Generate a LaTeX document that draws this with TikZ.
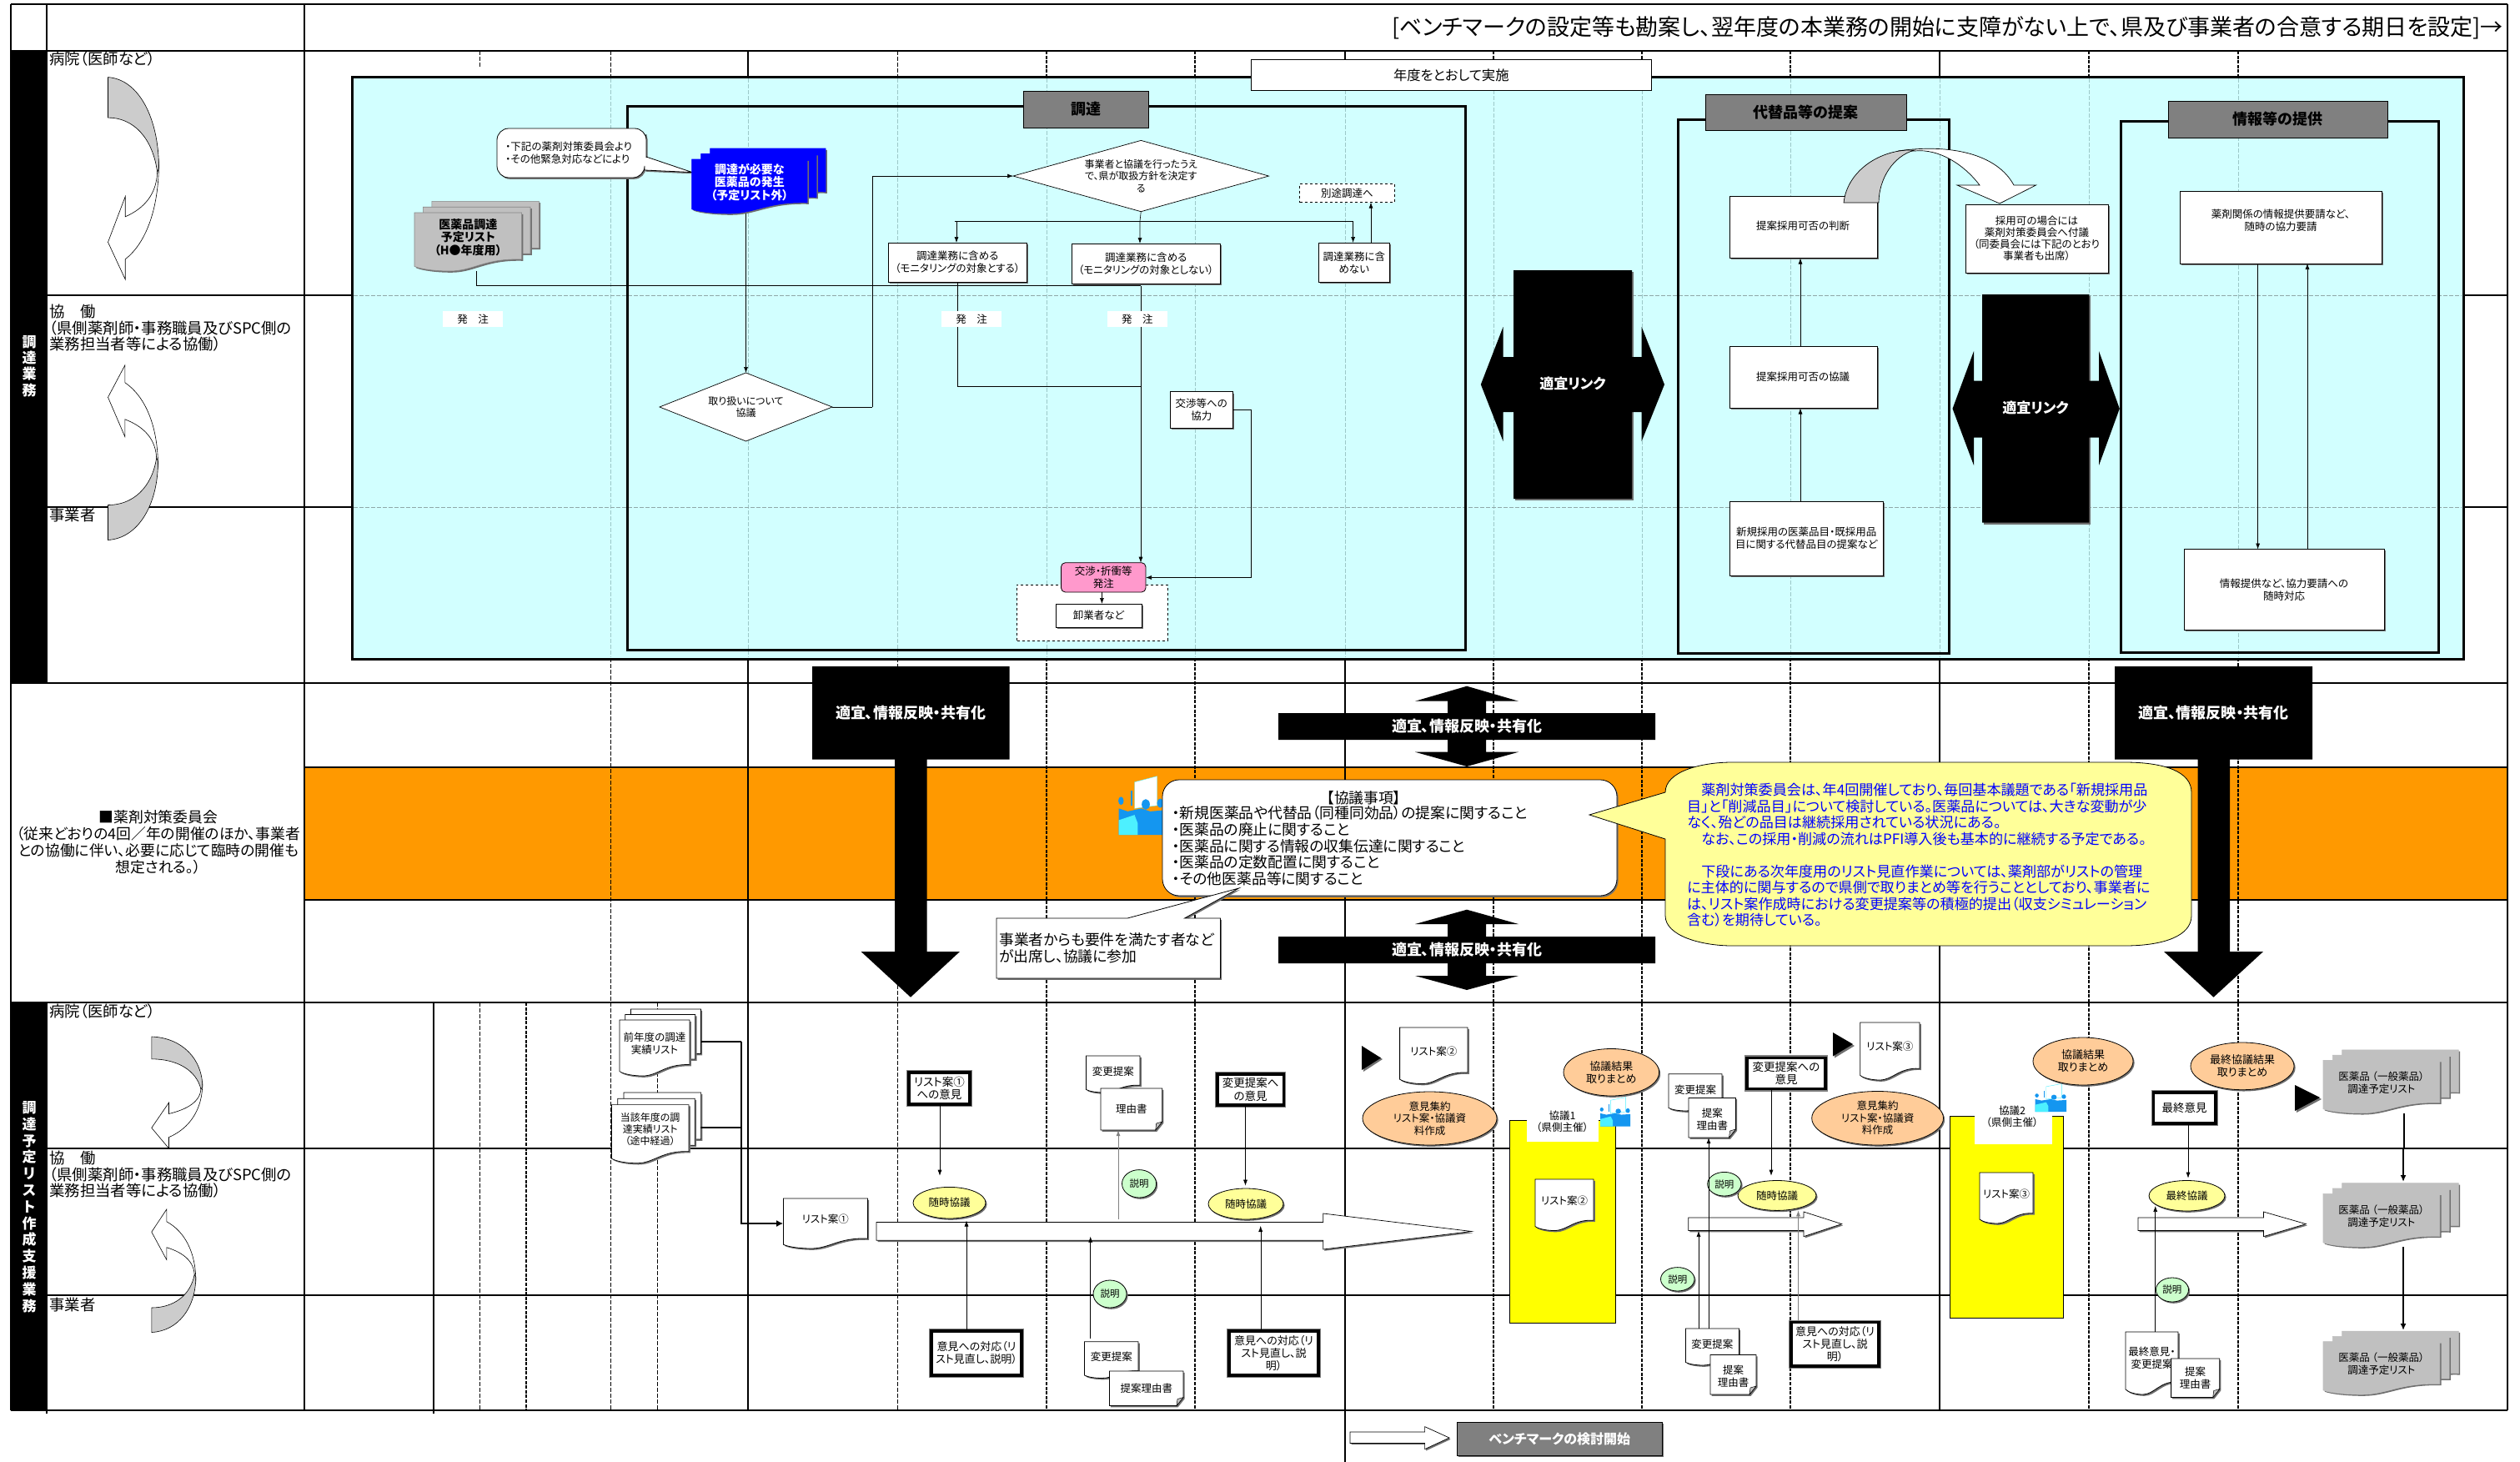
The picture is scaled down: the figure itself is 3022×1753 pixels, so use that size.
\documentclass[tikz,border=0pt]{standalone}
\usepackage{fontspec}
\setmainfont{Noto Sans CJK JP}[RawFeature=+palt]
\usetikzlibrary{arrows.meta,shapes.geometric,shadows,calc}
\definecolor{orangeband}{HTML}{FF9900}
\definecolor{cyanbox}{HTML}{D2FFFF}
\definecolor{faintv}{HTML}{9CC8C8}
\definecolor{faintg}{HTML}{8FA8A8}
\definecolor{greyhead}{HTML}{808080}
\definecolor{docgrey}{HTML}{C0C0C0}
\definecolor{curvegrey}{HTML}{CCCCCC}
\definecolor{shgrey}{HTML}{707070}
\definecolor{lyellow}{HTML}{FFFF99}
\definecolor{lorange}{HTML}{FFCC99}
\definecolor{lgreen}{HTML}{CCFFCC}
\definecolor{lpink}{HTML}{FF99CC}
\definecolor{iconblue}{HTML}{1496F0}
\definecolor{iconcyan}{HTML}{4DF0FF}
\definecolor{pureyellow}{HTML}{FFFF00}
\definecolor{pureblue}{HTML}{0000FF}
\newcommand\fsz[2]{\fontsize{#1}{#2}\selectfont}
\newcommand\ta{\fsz{12.5}{15}}
\gdef\bxtext{\ta}
\tikzset{
  txt/.code={\gdef\bxtext{#1}},
  sh/.style={general shadow={fill=shgrey,shadow xshift=1.6pt,shadow yshift=-1.8pt}},
  plain/.style={draw=black,line width=.8pt,fill=white,sh},
  heavy/.style={draw=black,line width=3.6pt,fill=white,preaction={draw=greyhead,line width=6pt}},
  oval/.style={shape=ellipse,draw=black,line width=.8pt,sh},
  arr/.style={-{Latex[length=7pt,width=5pt]},line width=.6pt,black},
  arrb/.style={-{Latex[length=8pt,width=7pt]},line width=2pt,black},
  grid/.style={line width=1.2pt,black},
  gridt/.style={line width=2.2pt,black},
  dashthin/.style={line width=.6pt,black,dash pattern=on 5pt off 2pt},
  dashthick/.style={line width=1.1pt,black,dash pattern=on 4pt off 1.6pt},
  faint/.style={line width=.6pt,faintv,dash pattern=on 5pt off 2pt},
  blockw/.style={draw=black,line width=.7pt,fill=white,sh},
}
% box by corners: shape node + separate text node
\newcommand\bx[7][]{%
  \gdef\bxtext{\ta}%
  \pgfmathsetmacro\cxx{(#3+#5)/2}\pgfmathsetmacro\cyy{(#4+#6)/2}%
  \pgfmathsetmacro\www{#5-#3}\pgfmathsetmacro\hhh{#6-#4}%
  \node[inner sep=0pt,outer sep=0pt,minimum width=\www pt,minimum height=\hhh pt,#1] (#2) at (\cxx,\cyy) {};%
  \node[align=center,inner sep=0pt,font=\bxtext] (#2-t) at (\cxx,\cyy) {#7};}
\newcommand\docshape[5]{%
  \pgfmathsetmacro\dww{#4-#2}\pgfmathsetmacro\dhh{#5-#3}%
  \draw[#1] (#2,#3) -- (#4,#3) -- (#4,{#3+.8*\dhh})
    .. controls ({#2+.65*\dww},{#3+.78*\dhh}) and ({#2+.55*\dww},#5) .. ({#2+.33*\dww},#5)
    .. controls ({#2+.2*\dww},#5) and ({#2+.06*\dww},{#3+.97*\dhh}) .. (#2,{#3+.92*\dhh}) -- cycle;}
% single document
\newcommand\docn[6]{%
  \docshape{fill=shgrey,draw=none,shift={(1.8,1.8)}}{#2}{#3}{#4}{#5}%
  \docshape{fill=white,draw=black,line width=.8pt}{#2}{#3}{#4}{#5}%
  \pgfmathsetmacro\cxx{(#2+#4)/2}\pgfmathsetmacro\cyy{#3+.42*(#5-#3)}%
  \pgfmathsetmacro\www{#4-#2}\pgfmathsetmacro\hhh{#5-#3}%
  \node[align=center,inner sep=0pt,font=\ta] (#1-t) at (\cxx,\cyy) {#6};%
  \node[inner sep=0pt,minimum width=\www pt,minimum height=\hhh pt] (#1) at ({(#2+#4)/2},{(#3+#5)/2}) {};}
% stack of three documents; the font of the text goes in #1 as txt=...
\newcommand\mdoc[9]{%
  \gdef\bxtext{\ta}%
  \pgfmathsetmacro\aax{#3+2*#7}\pgfmathsetmacro\aay{#4-2*#8}\pgfmathsetmacro\bbx{#5+2*#7}\pgfmathsetmacro\bby{#6-2*#8}%
  \docshape{fill=shgrey,draw=none,shift={(1.8,1.8)}}{\aax}{\aay}{\bbx}{\bby}%
  \docshape{#1}{\aax}{\aay}{\bbx}{\bby}%
  \pgfmathsetmacro\aax{#3+#7}\pgfmathsetmacro\aay{#4-#8}\pgfmathsetmacro\bbx{#5+#7}\pgfmathsetmacro\bby{#6-#8}%
  \docshape{fill=shgrey,draw=none,shift={(1.8,1.8)}}{\aax}{\aay}{\bbx}{\bby}%
  \docshape{#1}{\aax}{\aay}{\bbx}{\bby}%
  \docshape{fill=shgrey,draw=none,shift={(1.8,1.8)}}{#3}{#4}{#5}{#6}%
  \docshape{#1}{#3}{#4}{#5}{#6}%
  \pgfmathsetmacro\cxx{(#3+#5)/2}\pgfmathsetmacro\cyy{#4+.42*(#6-#4)}%
  \pgfmathsetmacro\www{#5-#3}\pgfmathsetmacro\hhh{#6-#4}%
  \node[align=center,inner sep=0pt,font=\bxtext] (#2-t) at (\cxx,\cyy) {#9};%
  \node[inner sep=0pt,minimum width=\www pt,minimum height=\hhh pt] (#2) at ({(#3+#5)/2},{(#4+#6)/2}) {};}
% folded-corner note
\newcommand\foldn[6]{%
  \draw[fill=white,draw=black,line width=.8pt,sh] (#2,#3) -- (#4,#3) -- (#4,#5-10) -- (#4-8,#5) -- (#2,#5) -- cycle;
  \draw[fill=docgrey,draw=black,line width=.5pt] (#4,#5-10) -- (#4-7,#5-8) -- (#4-8,#5) -- cycle;
  \pgfmathsetmacro\www{#4-#2}\pgfmathsetmacro\hhh{#5-#3}%
  \node[inner sep=0pt,minimum width=\www pt,minimum height=\hhh pt,align=center,font=\ta] (#1) at ({(#2+#4)/2},{(#3+#5)/2}) {#6};}
% curved arrow: x0, y0, w, signed h
\newcommand\curvearrow[4]{%
  \begin{scope}[shift={(#1,#2)},xscale=#3,yscale=#4,line width=.6pt]
    \draw[fill=white] (.34,.69) .. controls (.7,.65) and (.98,.58) .. (.97,.45)
      -- (1,.42) .. controls (1,.65) and (.75,.82) .. (.34,.9) -- (.34,1) -- (0,.816) -- (.34,.59) -- cycle;
    \draw[fill=curvegrey] (0,0) .. controls (.6,.01) and (1,.2) .. (1,.45) -- (.97,.47) .. controls (.88,.3) and (.5,.2) .. (0,.2) -- cycle;
  \end{scope}}
% meeting icon
\newcommand\people[4]{%
  \begin{scope}[shift={(#1,#2)},xscale=#3,yscale=#4]
    \fill[white,draw=iconcyan,line width=.4pt] (.35,.1) -- (.85,0) -- (.85,.5) -- (.35,.55) -- cycle;
    \fill[iconblue] (.05,.42) circle[x radius=.06,y radius=.07];
    \fill[iconblue] (.6,.48) circle[x radius=.09,y radius=.09];
    \fill[iconblue] (.92,.46) circle[x radius=.07,y radius=.08];
    \fill[iconblue] (.27,.25) rectangle (.3,.5);
    \fill[iconblue] (0,.55) -- (.2,.6) -- (.5,.55) -- (.7,.6) -- (1,.58) -- (1,1) -- (0,1) -- cycle;
    \fill[iconcyan] (0,.75) -- (.35,.66) -- (.42,.8) -- (.42,1) -- (0,1) -- cycle;
  \end{scope}}
\begin{document}
\begin{tikzpicture}[x=1pt,y=-1pt,font=\ta]
\useasboundingbox (0,0) rectangle (3022,1753);
\fill[white] (0,0) rectangle (3022,1753);
% --- bands
\fill[orangeband] (365,920) rectangle (3007,1079);
\draw[grid] (365,920) -- (3007,920) (365,1079) -- (3007,1079);
% --- lane lines
\draw[grid] (56,354) -- (3007,354) (56,608) -- (3007,608);
\draw[grid] (56,1377) -- (3007,1377) (56,1553) -- (3007,1553);
% --- vertical grid
\foreach \xx in {897,1613,2326} \draw[grid] (\xx,61) -- (\xx,1691);
\draw[grid] (1613,1691) -- (1613,1753);
\draw[dashthin] (575,61) -- (575,81);
\foreach \xx in {732,1076} \draw[dashthin] (\xx,61) -- (\xx,1691);
\foreach \xx in {1255,1433,1791,1969,2147,2505,2684} \draw[dashthick] (\xx,61) -- (\xx,1691);
\draw[grid] (520,1202) -- (520,1695);
\draw[dashthin] (575,1202) -- (575,1691);
\draw[dashthick] (631,1202) -- (631,1691);
\draw[dashthin] (788,1202) -- (788,1691);
% --- frame
\fill[black] (13,61) rectangle (56,819);
\fill[black] (13,1202) rectangle (56,1691);
\draw[gridt] (13,5) -- (3007,5) (13,61) -- (3007,61) (13,819) -- (3007,819) (13,1202) -- (3007,1202) (13,1691) -- (3007,1691);
\draw[gridt] (13,5) -- (13,1691) (3007,5) -- (3007,1691) (365,5) -- (365,1691) (56,5) -- (56,61) (56,1202) -- (56,1695);
\draw[grid] (56,61) -- (56,819);
\node[anchor=east,inner sep=0pt,font=\fsz{27}{32}] (header) at (3002,33) {[ベンチマークの設定等も勘案し、翌年度の本業務の開始に支障がない上で、県及び事業者の合意する期日を設定]→};
% --- left column
\node[text=white,align=center,font=\bfseries\fsz{17}{19.2},inner sep=0pt] (lab1) at (35,439) {調\\達\\業\\務};
\node[text=white,align=center,font=\bfseries\fsz{17}{19.8},inner sep=0pt] (lab2) at (35,1447) {調\\達\\予\\定\\リ\\ス\\ト\\作\\成\\支\\援\\業\\務};
\foreach \nm/\ya/\yb/\yc in {a/70.5/393/618, b/1212/1408/1565}{
  \node[anchor=west,inner sep=0pt,font=\fsz{18.4}{20}] (hosp\nm) at (59,\ya) {病院（医師など）};
  \node[anchor=north west,inner sep=0pt,align=left,font=\fsz{18.4}{19.6}] (kyo\nm) at (59,\yb-28) {協　働\\（県側薬剤師・事務職員及びSPC側の\\業務担当者等による協働）};
  \node[anchor=west,inner sep=0pt,font=\fsz{18.4}{20}] (biz\nm) at (59,\yc) {事業者};
}
\curvearrow{129.5}{92.6}{61}{242.4}
\curvearrow{129.5}{647.5}{60}{-209.7}
\curvearrow{181.8}{1243}{61}{134}
\curvearrow{181.8}{1597.5}{53}{-147.5}
\node[align=center,inner sep=0pt,font=\fsz{17.8}{19.8}] (yaku) at (190,1010) {■薬剤対策委員会\\（従来どおりの4回／年の開催のほか、事業者\\との協働に伴い、必要に応じて臨時の開催も\\想定される。）};
% --- cyan panel
\draw[fill=cyanbox,draw=black,line width=3pt] (422,92.6) rectangle (2954,790);
\foreach \xx in {732,897,1076,1255,1433,1613,1791,1969,2147,2326,2505,2684} \draw[faint] (\xx,94) -- (\xx,788);
\draw[line width=.6pt,faintg,dash pattern=on 5pt off 2pt] (424,354) -- (2952,354) (424,608) -- (2952,608);
% inner frames
\draw[line width=3pt,black] (752.6,127.6) rectangle (1757,779);
\draw[line width=3pt,black] (2012,143.8) rectangle (2337,783.5);
\draw[line width=3pt,black] (2543,145.4) rectangle (2924,782);
\bx[draw=black,line width=.8pt,fill=white]{yeartag}{1500.6}{71.6}{1980}{108.8}{\fsz{16.3}{20}年度をとおして実施}
\bx[draw=black,line width=.8pt,fill=greyhead]{t1}{1227}{109}{1377}{153}{\bfseries\fsz{18}{22}調達}
\bx[draw=black,line width=.8pt,fill=greyhead]{t2}{2045}{113.5}{2286}{156.4}{\bfseries\fsz{18}{22}代替品等の提案}
\bx[draw=black,line width=.8pt,fill=greyhead]{t3}{2600}{121}{2863}{165}{\bfseries\fsz{18}{22}情報等の提供}
% callout + list docs
\draw[fill=white,draw=black,line width=.8pt,sh] (596,180) [rounded corners=14] -- (596,154) -- (775,154) -- (775,175) [sharp corners] -- (775,188) -- (830,206.6) -- (773,204) [rounded corners=14] -- (773,213) -- (596,213) -- cycle;
\node[anchor=west,align=left,inner sep=0pt,font=\fsz{12.5}{14.5}] (call1) at (606,183) {・下記の薬剤対策委員会より\\・その他緊急対応などにより};
\mdoc{fill=docgrey,draw=docgrey!70!black,line width=.6pt,txt={\bfseries\fsz{14}{15.5}}}{listdoc}{497}{255}{625.6}{325}{10.4}{6.8}{医薬品調達\\予定リスト\\（H●年度用）}
\mdoc{fill=pureblue,draw=pureblue,line width=.6pt,txt={\bfseries\fsz{14}{15.5}\color{white}}}{bluedoc}{829.7}{191}{968}{256}{11}{6.5}{調達が必要な\\医薬品の発生\\（予定リスト外）}
% decision shapes
\bx[shape=diamond,draw=black,line width=.7pt,fill=white,txt={\fsz{12}{14.5}}]{dia1}{791}{447}{998}{529}{取り扱いについて\\協議}
\bx[shape=diamond,draw=black,line width=.7pt,fill=white,txt={\fsz{12}{14.5}}]{dia2}{1215}{168.4}{1521.5}{253.7}{事業者と協議を行ったうえ\\で、県が取扱方針を決定す\\る}
\bx[plain]{b1}{1065}{291}{1231.4}{338.4}{調達業務に含める\\（モニタリングの対象とする）}
\bx[plain]{b2}{1285}{292}{1463.5}{340.5}{調達業務に含める\\（モニタリングの対象としない）}
\bx[plain]{b3}{1581.5}{291}{1666}{338.4}{調達業務に含\\めない}
\bx[draw=black,line width=.7pt,dashed,fill=white]{betto}{1558.7}{220}{1672}{242.7}{別途調達へ}
\bx[plain]{coop}{1403.5}{469.7}{1478}{513.6}{交渉等への\\協力}
\bx[draw=black,line width=.6pt,dashed,fill=white]{dashbox}{1219.7}{701}{1400}{768}{}
\bx[draw=black,line width=.8pt,fill=lpink,rounded corners=5pt]{pink}{1272.5}{674.7}{1374}{710}{交渉・折衝等\\発注}
\bx[plain]{orosi}{1266}{724}{1369}{752}{卸業者など}
% connectors in procurement
\coordinate (jbus) at (1368,342.6);
\coordinate (jdec) at (1046,488);
\coordinate (jtop) at (1367,265);
\draw[arr] (dia1.north |- bluedoc.south) -- (dia1.north);
\draw[line width=.7pt] (dia1.east) -- (jdec);
\draw[arr] (jdec) |- (dia2.west);
\draw[line width=.9pt] (1144.7,265) -- (1622.6,265);
\draw[arr] (dia2.south) -- (jtop) -- (b2.north -| jtop);
\draw[arr] (1147,265) -- (b1.north -| 1147,0);
\draw[arr] (1622.6,265) -- (b3.north -| 1622.6,0);
\draw[arr] (b3.north -| 1644,0) -- (betto.south -| 1644,0);
\draw[line width=.8pt] (listdoc.south -| 571,0) |- (jbus);
\draw[arr] (jbus) -- (pink.north -| jbus);
\draw[line width=.8pt] (b1.south -| 1148.6,0) |- (1368,463);
\draw[arr] (coop.east) -| (1500,692.5) -- (pink.east |- 0,692.5);
\draw[arr] (pink.south -| 1321.4,0) -- (orosi.north -| 1321.4,0);
\foreach \nm/\xa/\xb in {ha/531/603, hb/1129/1201, hc/1328/1399.6}{
  \bx[fill=white]{\nm}{\xa}{373}{\xb}{392}{\fsz{12.5}{15}発　注}
}
% link arrows
\fill[shgrey] (1817,326) rectangle (1959,600);
\fill[black] (1815,324) -- (1957,324) -- (1957,428) -- (1968.7,428) -- (1968.7,392) -- (1996,461) -- (1968.7,529) -- (1968.7,494) -- (1957,494) -- (1957,598) -- (1815,598) -- (1815,494) -- (1802.5,494) -- (1802.5,529) -- (1775.8,461) -- (1802.5,392) -- (1802.5,428) -- (1815,428) -- cycle;
\node[text=white,font=\bfseries\fsz{17}{20},inner sep=0pt] (link1) at (1886,460) {適宜リンク};
\fill[shgrey] (2379,355) rectangle (2507,628.6);
\fill[black] (2377,353) -- (2505.4,353) -- (2505.4,456.6) -- (2517,456.6) -- (2517,421) -- (2541.8,490) -- (2517,558) -- (2517,524.6) -- (2505.4,524.6) -- (2505.4,626.6) -- (2377,626.6) -- (2377,524.6) -- (2367,524.6) -- (2367,558) -- (2341.5,490) -- (2367,421) -- (2367,456.6) -- (2377,456.6) -- cycle;
\node[text=white,font=\bfseries\fsz{17}{20},inner sep=0pt] (link2) at (2441,489) {適宜リンク};
% substitute proposal
\bx[plain]{s1}{2074}{235}{2251}{309.6}{}
\node[inner sep=0pt] (s1t) at (2162,271) {提案採用可否の判断};
\bx[plain]{s2}{2074}{415}{2251}{489.5}{}
\node[inner sep=0pt] (s2t) at (2162,452) {提案採用可否の協議};
\bx[plain]{s3}{2074}{601}{2258.6}{690}{新規採用の医薬品目・既採用品\\目に関する代替品目の提案など}
\draw[arr] (s3.north -| 2159,0) -- (s2.south -| 2159,0);
\draw[arr] (s2.north -| 2159,0) -- (s1.south -| 2159,0);
\bx[plain,txt={\fsz{12.5}{14}}]{s4}{2357}{245}{2528}{327}{採用可の場合には\\薬剤対策委員会へ付議\\（同委員会には下記のとおり\\事業者も出席）}
\draw[fill=white,line width=.7pt] (2276,181) .. controls (2340,172) and (2395,185) .. (2415,222) -- (2441.6,222) -- (2398,244) -- (2347,222) -- (2374,222) .. controls (2355,197) and (2325,178) .. (2296,181) -- cycle;
\draw[fill=curvegrey,line width=.7pt] (2211,243) .. controls (2215,205) and (2255,178) .. (2296,180) .. controls (2270,187) and (2253,215) .. (2253,243) -- cycle;
% information
\bx[plain]{i1}{2614.5}{229}{2856}{316}{}
\node[align=center,inner sep=0pt] (i1t) at (2735,264) {薬剤関係の情報提供要請など、\\随時の協力要請};
\bx[plain]{i2}{2619.6}{658.5}{2859}{755}{}
\node[align=center,inner sep=0pt] (i2t) at (2739,707) {情報提供など、協力要請への\\随時対応};
\draw[arr] (i1.south -| 2707.6,0) -- (i2.north -| 2707.6,0);
\draw[arr] (i2.north -| 2767,0) -- (i1.south -| 2767,0);
% --- committee arrows
\fill[black] (974,799) -- (1210.6,799) -- (1210.6,910.7) -- (1111.5,910.7) -- (1111.5,1141) -- (1151,1141) -- (1092,1195.7) -- (1032.6,1141) -- (1073,1141) -- (1073,910.7) -- (974,910.7) -- cycle;
\node[text=white,font=\bfseries\fsz{18}{21},inner sep=0pt] (share1) at (1092,855) {適宜、情報反映・共有化};
\fill[black] (2536,799) -- (2773,799) -- (2773,910.7) -- (2674,910.7) -- (2674,1141) -- (2714,1141) -- (2654.5,1195.7) -- (2595,1141) -- (2635.6,1141) -- (2635.6,910.7) -- (2536,910.7) -- cycle;
\node[text=white,font=\bfseries\fsz{18}{21},inner sep=0pt] (share2) at (2654.5,855) {適宜、情報反映・共有化};
\fill[black] (1759,822.7) -- (1821,840.7) -- (1782,840.7) -- (1782,855) -- (1985,855) -- (1985,887) -- (1782,887) -- (1782,901.7) -- (1821,901.7) -- (1759,919) -- (1697,901.7) -- (1736,901.7) -- (1736,887) -- (1533,887) -- (1533,855) -- (1736,855) -- (1736,840.7) -- (1697,840.7) -- cycle;
\node[text=white,font=\bfseries\fsz{18}{21},inner sep=0pt] (share3) at (1759,871) {適宜、情報反映・共有化};
\fill[black] (1759,1090.7) -- (1821,1108) -- (1782,1108) -- (1782,1123) -- (1985,1123) -- (1985,1155) -- (1782,1155) -- (1782,1170) -- (1821,1170) -- (1759,1187) -- (1697,1170) -- (1736,1170) -- (1736,1155) -- (1533,1155) -- (1533,1123) -- (1736,1123) -- (1736,1108) -- (1697,1108) -- cycle;
\node[text=white,font=\bfseries\fsz{18}{21},inner sep=0pt] (share4) at (1759,1139) {適宜、情報反映・共有化};
% --- committee callouts
\people{1341.6}{930.7}{54}{70.3}
\draw[fill=white,draw=black,line width=.8pt,rounded corners=20pt,sh] (1394,935) rectangle (1939,1074);
\node[inner sep=0pt,font=\fsz{17.8}{20}] (kh) at (1635.6,956.7) {【協議事項】};
\node[anchor=north west,align=left,inner sep=0pt,font=\fsz{17.8}{19.6}] (kl) at (1405.5,966.5) {・新規医薬品や代替品（同種同効品）の提案に関すること\\・医薬品の廃止に関すること\\・医薬品に関する情報の収集伝達に関すること\\・医薬品の定数配置に関すること\\・その他医薬品等に関すること};
\draw[fill=white,draw=black,line width=.8pt,sh] (1195,1101) -- (1352,1101) -- (1485.6,1065) -- (1420.5,1101) -- (1463.5,1101) -- (1463.5,1173) -- (1195,1173) -- cycle;
\node[anchor=west,align=left,inner sep=0pt,font=\fsz{17.8}{19.6}] (bizc) at (1198,1137) {事業者からも要件を満たす者など\\が出席し、協議に参加};
\draw[fill=lyellow,draw=black,line width=.8pt] (1997,950) .. controls (1997,925) and (2040,914) .. (2077,914) -- (2548,914) .. controls (2595,914) and (2628,925) .. (2628,950) -- (2628,1098) .. controls (2628,1122) and (2595,1134) .. (2548,1134) -- (2077,1134) .. controls (2040,1134) and (1997,1122) .. (1997,1098) -- (1997,1006) -- (1906,977) -- cycle;
\node[anchor=north west,align=left,inner sep=0pt,text=pureblue,font=\fsz{17.1}{19.5}] (yc) at (2023,939) {　薬剤対策委員会は、年4回開催しており、毎回基本議題である「新規採用品\\目」と「削減品目」について検討している。医薬品については、大きな変動が少\\なく、殆どの品目は継続採用されている状況にある。\\　なお、この採用・削減の流れはPFI導入後も基本的に継続する予定である。\\[19.5pt]　下段にある次年度用のリスト見直作業については、薬剤部がリストの管理\\に主体的に関与するので県側で取りまとめ等を行うこととしており、事業者に\\は、リスト案作成時における変更提案等の積極的提出（収支シミュレーション\\含む）を期待している。};
% --- lower section: sources
\mdoc{fill=white,draw=black,line width=.7pt,txt={\fsz{12.5}{14.5}}}{prev}{743}{1223}{827}{1290}{6.7}{6.5}{前年度の調達\\実績リスト}
\mdoc{fill=white,draw=black,line width=.7pt,txt={\fsz{12}{14}}}{curr}{733.4}{1324.6}{826}{1394.7}{7.3}{7.3}{当該年度の調\\達実績リスト\\（途中経過）}
\docn{l1}{939.4}{1437}{1040.4}{1497}{リスト案①}
\coordinate (jthick) at (889,1467);
\draw[line width=2pt] (prev.east |- 0,1248.5) ++(13,0) -- (jthick |- 0,1248.5);
\draw[line width=2pt] (curr.east |- 0,1352) ++(14,0) -- (jthick |- 0,1352);
\draw[line width=2pt,-{Latex[length=8pt,width=8pt]}] (jthick |- 0,1248.5) -- (jthick) -- (l1.west |- jthick);
% long block arrow
\draw[blockw] (1051,1465.4) -- (1586.7,1465.4) -- (1586.7,1455) -- (1764.7,1476.5) -- (1586.7,1498) -- (1586.7,1487.3) -- (1051,1487.3) -- cycle;
\bx[heavy,txt={\fsz{13.5}{15.5}}]{h1}{1090}{1286}{1163}{1324}{リスト案①\\への意見}
\bx[oval,fill=lyellow]{e1}{1095}{1423.4}{1182}{1461}{随時協議}
\bx[heavy,txt={\fsz{13}{15}}]{h2}{1117}{1596}{1225}{1649}{意見への対応（リ\\スト見直し、説明）}
\draw[arr] (h1.south -| 1127,0) -- (1127,1409.7);
\draw[arr,line width=.4pt] (h2.north -| 1159,0) -- (1159,1463.6);
\docn{c1}{1302.5}{1266}{1367}{1310}{変更提案}
\foldn{r1}{1320}{1305}{1393.7}{1355}{理由書}
\draw[arr,draw=gray] (1341,1462) -- (r1.south -| 1341,0);
\bx[oval,fill=lgreen,txt={\fsz{11.5}{14}}]{ex1}{1345.5}{1402.6}{1386.6}{1436}{説明}
\bx[heavy,txt={\fsz{13.5}{15.5}}]{h3}{1460}{1288}{1539.4}{1325}{変更提案へ\\の意見}
\bx[oval,fill=lyellow]{e2}{1449}{1425}{1539}{1462}{随時協議}
\draw[arr] (h3.south -| 1493.5,0) -- (1493.5,1421.6);
\bx[heavy,txt={\fsz{13}{15}}]{h4}{1474}{1596}{1581}{1649}{意見への対応（リ\\スト見直し、説\\明）}
\draw[arr,line width=.4pt] (h4.north -| 1511.7,0) -- (1511.7,1470);
\docn{c2}{1300.5}{1608.7}{1365}{1652.5}{変更提案}
\foldn{r2}{1330.5}{1644}{1419}{1685.5}{提案理由書}
\draw[arr] (c2.north -| 1307.7,0) ++(0,-4) -- (1307.7,1482.6);
\bx[oval,fill=lgreen,txt={\fsz{11.5}{14}}]{ex2}{1311}{1535}{1351}{1568}{説明}
% list 2 column
\fill[shgrey] (1635,1256) -- (1658,1270) -- (1635,1285) -- cycle;
\fill[black] (1633,1254) -- (1656,1268.5) -- (1633,1283) -- cycle;
\docn{l2}{1678.6}{1232}{1760}{1299.5}{リスト案②}
\bx[oval,fill=lorange,txt={\fsz{12.5}{14.5}}]{o1}{1634}{1309}{1795}{1373}{意見集約\\リスト案・協議資\\料作成}
\bx[oval,fill=lorange,txt={\fsz{13}{15}}]{o2}{1875}{1257.5}{1989.6}{1314}{協議結果\\取りまとめ}
\draw[fill=pureyellow,draw=black,line width=.7pt] (1810,1343) rectangle (1937,1586);
\fill[white] (1831,1325) rectangle (1917,1369);
\node[align=center,inner sep=0pt,font=\fsz{12.5}{14.5}] (m1) at (1873.5,1345) {協議1\\（県側主催）};
\people{1919}{1315.7}{36}{34.8}
\docn{l2b}{1841}{1414}{1911}{1475.5}{リスト案②}
% next column
\docn{c3}{2001}{1287.7}{2065}{1332}{変更提案}
\foldn{r3}{2025}{1316.4}{2081.5}{1364}{\\提案\\理由書}
\bx[heavy,txt={\fsz{13.5}{15.5}}]{h5}{2095}{1268.4}{2189}{1305.5}{変更提案への\\意見}
\fill[shgrey] (2200,1240) -- (2224,1254) -- (2200,1268.5) -- cycle;
\fill[black] (2198,1238) -- (2222,1252) -- (2198,1266.5) -- cycle;
\docn{l3}{2230.8}{1226}{2302}{1295}{リスト案③}
\bx[oval,fill=lorange,txt={\fsz{12.5}{14.5}}]{o3}{2172.7}{1308.5}{2330.5}{1373}{意見集約\\リスト案・協議資\\料作成}
\draw[blockw] (2024.8,1460) -- (2163,1460) -- (2163,1453) -- (2208.6,1467.6) -- (2163,1482.6) -- (2163,1475.5) -- (2024.8,1475.5) -- cycle;
\bx[oval,fill=lyellow]{e3}{2084}{1415.5}{2178}{1451.4}{随時協議}
\bx[oval,fill=lgreen,txt={\fsz{11.5}{14}}]{ex3}{2047.6}{1405.4}{2088}{1434}{説明}
\bx[oval,fill=lgreen,txt={\fsz{11.5}{14}}]{ex4}{1991.5}{1519.6}{2032}{1548}{説明}
\bx[heavy,txt={\fsz{13}{15}}]{h6}{2148}{1585.5}{2253}{1638}{意見への対応（リ\\スト見直し、説\\明）}
\docn{c4}{2021.5}{1593}{2085.4}{1637}{変更提案}
\foldn{r4}{2051}{1624.5}{2106}{1672}{\\提案\\理由書}
\draw[arr] (h5.south -| 2124,0) -- (2124,1409.7);
\draw[arr] (c4.north -| 2037,0) -- (2037,1476);
\draw[arr] (c4.north -| 2049,0) -- (r3.south -| 2049,0);
\draw[arr,draw=gray] (h6.north -| 2156.5,0) ++(0,-3) -- (2156.5,1451.4);
% yellow 2
\draw[fill=pureyellow,draw=black,line width=.7pt] (2338,1338) rectangle (2474,1580.7);
\fill[white] (2367.7,1320) rectangle (2461,1372);
\node[align=center,inner sep=0pt,font=\fsz{12.5}{14.5}] (m2) at (2413,1339) {協議2\\（県側主催）};
\people{2440.7}{1299.5}{37.3}{33.5}
\docn{l3b}{2374}{1406}{2438}{1467}{リスト案③}
\bx[oval,fill=lorange,txt={\fsz{13}{15}}]{o4}{2438}{1244}{2558}{1301}{協議結果\\取りまとめ}
\bx[oval,fill=lorange,txt={\fsz{13}{15}}]{o5}{2627}{1250}{2751}{1306.7}{最終協議結果\\取りまとめ}
\bx[heavy,txt={\fsz{13.5}{15.5}}]{h7}{2582.5}{1309.7}{2656.7}{1347}{最終意見}
\bx[oval,fill=lyellow]{e4}{2577}{1415.5}{2668}{1452}{最終協議}
\draw[blockw] (2564,1460) -- (2714.5,1460) -- (2714.5,1453) -- (2765.3,1467.6) -- (2714.5,1482.6) -- (2714.5,1475.5) -- (2564,1475.5) -- cycle;
\draw[arr] (h7.south -| 2624,0) -- (2624,1412.6);
\docn{c5}{2549}{1597}{2612}{1672}{最終意見・\\変更提案}
\foldn{r5}{2603.6}{1629}{2661.7}{1675.5}{提案\\理由書}
\draw[arr] (c5.north -| 2584.7,0) -- (2584.7,1446);
\bx[oval,fill=lgreen,txt={\fsz{11.5}{14}}]{ex5}{2585.4}{1532}{2624.5}{1561}{説明}
\fill[shgrey] (2754,1303) -- (2784,1318) -- (2754,1334) -- cycle;
\fill[black] (2752,1301) -- (2782,1316) -- (2752,1332) -- cycle;
\mdoc{fill=docgrey,draw=docgrey,line width=.6pt,txt={\fsz{12.5}{15}}}{g1}{2786}{1271.5}{2925.7}{1334.7}{11.3}{6.3}{医薬品\ （一般薬品）\\調達予定リスト}
\mdoc{fill=docgrey,draw=docgrey,line width=.6pt,txt={\fsz{12.5}{15}}}{g2}{2786}{1431.3}{2925.7}{1495}{11.3}{6.3}{医薬品\ （一般薬品）\\調達予定リスト}
\mdoc{fill=docgrey,draw=docgrey,line width=.6pt,txt={\fsz{12.5}{15}}}{g3}{2786}{1608.7}{2925.7}{1672}{11.3}{6.3}{医薬品\ （一般薬品）\\調達予定リスト}
\coordinate (jg) at (2883,1377);
\draw[line width=2pt] (g1.south -| jg) -- (jg);
\draw[arrb] (jg) ++(-1,0) -- (2882,1417);
\draw[arrb] (g2.south -| 2882,0) -- (2882,1595);
% bottom legend
\draw[blockw] (1619,1717) -- (1708.6,1717) -- (1708.6,1710.6) -- (1738,1724) -- (1708.6,1737.6) -- (1708.6,1730.4) -- (1619,1730.4) -- cycle;
\bx[draw=black,line width=1pt,fill=greyhead,sh]{bench}{1747.7}{1705}{1993}{1745}{\color{white}\bfseries\fsz{16}{20}ベンチマークの検討開始}
\end{tikzpicture}
\end{document}
